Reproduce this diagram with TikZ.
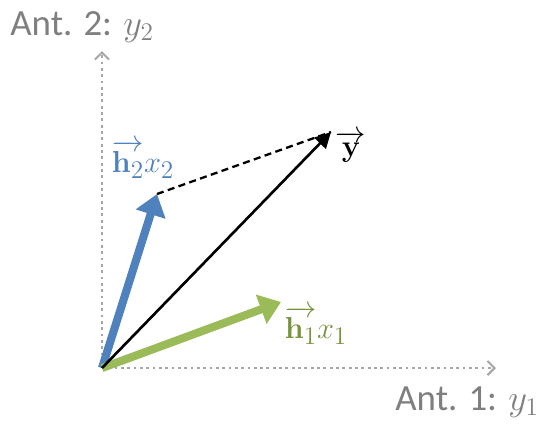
\documentclass[tikz,border=0pt]{standalone}
\usepackage{amsmath}
\usepackage[no-math]{fontspec}
\setmainfont{Carlito}
\usetikzlibrary{arrows.meta}
\definecolor{ax-gray}{HTML}{7F7F7F}
\definecolor{ax-line}{HTML}{A6A6A6}
\definecolor{h-blue}{HTML}{4F81BD}
\definecolor{h-green}{HTML}{9BBB59}
\definecolor{h-greentext}{HTML}{77933C}

\begin{document}
\begin{tikzpicture}[
    axis/.style={draw=ax-line, line width=1.6pt, dotted,
                 -{Straight Barb[length=4pt, width=8pt, line width=1.2pt]}},
    vec/.style={line width=4.6pt, -{Triangle[length=12pt, width=17pt]}},
    sumvec/.style={draw=black, line width=1.5pt, -{Triangle[length=9pt, width=9pt]}},
    proj/.style={draw=black, line width=1.3pt, dash pattern=on 4pt off 2.5pt},
    axlabel/.style={text=ax-gray, font=\fontsize{21}{24}\selectfont, anchor=base west, inner sep=0pt},
    veclabel/.style={font=\fontsize{19}{22}\selectfont, inner sep=0pt}
]
\useasboundingbox (0,0) rectangle (10.94,8.56);

% punti principali
\coordinate (O) at (2.04, 1.20);
\coordinate (xend) at (9.92, 1.20);
\coordinate (yend) at (2.04, 7.54);
\coordinate (h1tip) at (5.62, 2.52);
\coordinate (h2tip) at (3.14, 4.68);
\coordinate (ytip) at (6.62, 5.92);

% assi
\draw[axis] (O) -- (xend);
\draw[axis] (O) -- (yend);

\node[axlabel] (lab_y2) at (0.2, 7.86) {Ant. 2: $y_2$};
\node[axlabel] (lab_y1) at (7.9, 0.36) {Ant. 1: $y_1$};

% vettori
\draw[proj] (h2tip) -- (ytip);
\draw[vec, draw=h-blue] (O) -- (h2tip);
\draw[vec, draw=h-green] (O) -- (h1tip);
\draw[sumvec] (O) -- (ytip);

% etichette
\node[veclabel, text=h-blue] (lab_h2) at (2.86, 5.38) {$\overrightarrow{\mathbf{h}_2}x_2$};
\node[veclabel, text=h-greentext] (lab_h1) at (6.32, 2.06) {$\overrightarrow{\mathbf{h}_1}x_1$};
\node[veclabel] (lab_y) at (7.02, 5.62) {$\overrightarrow{\mathbf{y}}$};

\end{tikzpicture}
\end{document}
